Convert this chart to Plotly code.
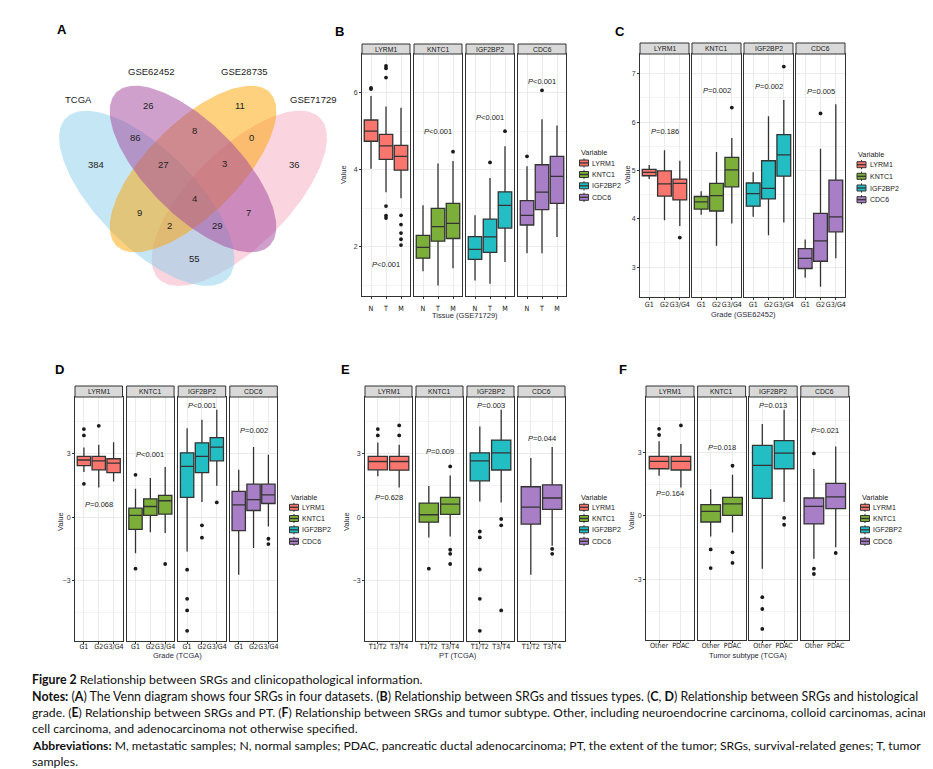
import numpy as np
import plotly.graph_objects as go

W, H = 933, 769
FONT = "Liberation Sans, Arial, Helvetica, sans-serif"
NARROW = "Liberation Sans Narrow, DejaVu Sans Condensed, Arial Narrow, Liberation Sans, sans-serif"
CAPFONT = "Lato, Noto Sans, sans-serif"
TXT = "#1A1A1A"
TICK = "#333333"

genes = ["LYRM1", "KNTC1", "IGF2BP2", "CDC6"]
gene_fill = ["#F8766D", "#7CAE3A", "#22BEC4", "#A87EC6"]

# ---------------- Panel A : Venn diagram ----------------
venn_sets = ["TCGA", "GSE62452", "GSE28735", "GSE71729"]
venn_counts = [384, 26, 11, 36, 86, 8, 0, 27, 3, 4, 9, 7, 2, 29, 55]

# ---------------- Panel B : tissue (GSE71729) ----------------
B_cats = ["N", "T", "M"]
B_low = [[4.03, 3.42, 3.26], [1.37, 1.00, 1.45], [1.13, 1.05, 1.61], [1.84, 1.84, 2.26]]
B_q1 = [[4.74, 4.27, 3.99], [1.71, 2.15, 2.22], [1.68, 1.86, 2.49], [2.57, 2.97, 3.13]]
B_med = [[5.00, 4.62, 4.35], [1.99, 2.53, 2.61], [1.94, 2.26, 3.08], [2.82, 3.42, 3.83]]
B_q3 = [[5.29, 4.92, 4.63], [2.30, 3.00, 3.13], [2.27, 2.72, 3.43], [3.20, 4.13, 4.35]]
B_up = [[5.91, 5.64, 5.61], [3.08, 4.16, 4.23], [2.82, 3.79, 4.61], [4.09, 5.31, 5.15]]
B_out = [
    [[6.12, 6.09], [6.69, 6.63, 6.39, 3.06, 2.81, 2.75], [2.82, 2.58, 2.36, 2.20, 2.05]],
    [[], [], [4.47]],
    [[], [4.19], [5.00]],
    [[4.35], [6.06], []],
]
B_p = ["&lt;0.001", "&lt;0.001", "&lt;0.001", "&lt;0.001"]

# ---------------- Panel C : grade (GSE62452) ----------------
C_cats = ["G1", "G2", "G3/G4"]
C_low = [[4.82, 3.97, 3.85], [4.08, 3.44, 3.90], [4.04, 3.66, 3.92], [2.78, 2.59, 3.18]]
C_q1 = [[4.89, 4.47, 4.39], [4.20, 4.16, 4.66], [4.26, 4.41, 4.88], [2.97, 3.12, 3.73]]
C_med = [[4.96, 4.72, 4.73], [4.35, 4.48, 5.01], [4.52, 4.63, 5.32], [3.18, 3.54, 4.04]]
C_q3 = [[5.02, 4.99, 4.82], [4.46, 4.73, 5.27], [4.74, 5.20, 5.74], [3.38, 4.11, 4.80]]
C_up = [[5.11, 5.42, 5.20], [4.57, 5.38, 5.67], [4.96, 6.12, 6.46], [3.57, 5.45, 6.37]]
C_out = [
    [[], [], [3.61]],
    [[], [], [6.30]],
    [[], [], [7.15]],
    [[], [6.18], []],
]
C_p = ["=0.186", "=0.002", "=0.002", "=0.005"]

# ---------------- Panel D : grade (TCGA) ----------------
D_cats = ["G1", "G2", "G3/G4"]
D_low = [[2.12, 1.40, 1.68], [-1.70, -0.72, -0.75], [-1.62, 0.71, 1.48], [-2.72, -1.46, -0.44]]
D_q1 = [[2.43, 2.23, 2.10], [-0.58, 0.08, 0.14], [0.93, 2.10, 2.65], [-0.64, 0.31, 0.64]]
D_med = [[2.69, 2.65, 2.54], [0.08, 0.50, 0.77], [2.39, 2.86, 3.30], [0.58, 0.82, 1.05]]
D_q3 = [[2.86, 2.86, 2.75], [0.42, 0.86, 1.02], [3.03, 3.50, 3.75], [1.21, 1.55, 1.55]]
D_up = [[3.28, 3.41, 3.53], [1.34, 1.84, 2.36], [4.19, 4.59, 5.06], [2.23, 3.30, 2.94]]
D_out = [
    [[4.15, 3.85, 1.57], [4.30], []],
    [[1.99, -2.43], [], [-2.21]],
    [[-2.48, -3.85, -4.40, -5.36], [-0.39, -0.97], [0.69]],
    [[], [], [-1.02, -1.27]],
]
D_p = ["=0.068", "&lt;0.001", "&lt;0.001", "=0.002"]

# ---------------- Panel E : PT (TCGA) ----------------
E_cats = ["T1/T2", "T3/T4"]
E_low = [[1.92, 1.40], [-0.96, -0.91], [0.74, 0.69], [-2.72, -1.35]]
E_q1 = [[2.23, 2.21], [-0.24, 0.13], [1.71, 2.22], [-0.33, 0.36]]
E_med = [[2.62, 2.62], [0.11, 0.61], [2.65, 3.03], [0.47, 0.90]]
E_q3 = [[2.86, 2.86], [0.66, 0.93], [3.03, 3.63], [1.43, 1.52]]
E_up = [[3.52, 3.41], [1.46, 1.96], [4.27, 5.06], [2.78, 3.30]]
E_out = [
    [[4.15, 3.85], [4.32, 3.85]],
    [[-2.43], [2.39, -1.54, -1.73, -2.21]],
    [[-0.68, -0.96, -2.47, -3.85, -5.36], [-0.09, -0.39, -4.40]],
    [[], [-1.50, -1.73]],
]
E_p = ["=0.628", "=0.009", "=0.003", "=0.044"]

# ---------------- Panel F : tumor subtype (TCGA) ----------------
F_cats = ["Other", "PDAC"]
F_low = [[1.89, 1.34], [-0.97, -0.78], [-2.49, 0.65], [-2.02, -1.48]]
F_q1 = [[2.22, 2.16], [-0.29, 0.02], [0.82, 2.22], [-0.38, 0.34]]
F_med = [[2.57, 2.57], [0.21, 0.56], [2.38, 2.96], [0.45, 0.89]]
F_q3 = [[2.80, 2.80], [0.53, 0.87], [3.32, 3.54], [0.84, 1.53]]
F_up = [[3.51, 3.38], [1.25, 1.94], [4.33, 5.00], [2.21, 3.27]]
F_out = [
    [[4.10, 3.81], [4.26]],
    [[-1.58, -2.46], [2.36, -1.72, -2.22]],
    [[-3.83, -4.39, -5.33], [-0.10, -0.42]],
    [[2.94, -2.49, -2.74], [-1.75]],
]
F_p = ["=0.164", "=0.018", "=0.013", "=0.021"]

# ================= layout / style parameters =================
venn_label_xy = [(88.3, 156), (140, 97.7), (232.3, 97.7), (286, 156), (127.3, 129),
                 (186, 122.3), (243.3, 129), (155, 156), (216, 155.7), (186, 190),
                 (131, 204.3), (240, 204.3), (161.7, 217.7), (209, 217.7), (186, 250.7)]
venn_set_xy = [(70.7, 91.7), (143.3, 63.3), (235.7, 63.3), (305, 91.7)]
# ellipse geometry in pixel units: centre, semi-axes, tilt (deg, screen coords)
venn_geom = {
    "TCGA": ((138.7, 190.3), 114.0, 48.6, 45, "rgba(139,205,235,0.5)"),
    "GSE62452": ((185.0, 161.0), 108.4, 46.1, 45, "rgba(163,72,158,0.52)"),
    "GSE28735": ((185.0, 161.0), 108.4, 46.1, -45, "rgba(253,163,0,0.5)"),
    "GSE71729": ((231.3, 190.3), 114.0, 48.6, -45, "rgba(245,169,191,0.5)"),
}
venn_draw_order = ["GSE71729", "TCGA", "GSE28735", "GSE62452"]

panels = [
    dict(name="B", cats=B_cats, low=B_low, q1=B_q1, med=B_med, q3=B_q3, up=B_up, out=B_out, p=B_p,
         p_y=[1.54, 5.0, 5.35, 6.29], x0=354, step=52, w=48, strip=36, top=46, bot=288,
         yrange=[0.73, 7.0], ticks=[2, 4, 6], minor=[1, 3, 5, 7], standoff=3,
         xtitle="Tissue (GSE71729)", xt=(457, 307), yt=(336, 167),
         lx=570.5, lty=144, lys=[155, 166.5, 177.8, 189.3], letter=(331, 23)),
    dict(name="C", cats=C_cats, low=C_low, q1=C_q1, med=C_med, q3=C_q3, up=C_up, out=C_out, p=C_p,
         p_y=[5.8, 6.65, 6.74, 6.63], x0=632, step=52, w=49, strip=35, top=46, bot=289,
         yrange=[2.38, 7.41], ticks=[3, 4, 5, 6, 7], minor=[2.5, 3.5, 4.5, 5.5, 6.5], standoff=-2,
         xtitle="Grade (GSE62452)", xt=(735, 306), yt=(620, 167),
         lx=848, lty=147, lys=[156.7, 168.3, 180, 191.7], letter=(612, 23)),
    dict(name="D", cats=D_cats, low=D_low, q1=D_q1, med=D_med, q3=D_q3, up=D_up, out=D_out, p=D_p,
         p_y=[0.61, 2.94, 5.26, 4.07], x0=67, step=51.6, w=47.5, strip=378, top=389, bot=633,
         yrange=[-5.84, 5.66], ticks=[-3, 0, 3], minor=[-4.5, -1.5, 1.5, 4.5], standoff=-4,
         xtitle="Grade (TCGA)", xt=(169, 647), yt=(52, 514),
         lx=280.5, lty=490, lys=[499.3, 510.5, 521.8, 533.3], letter=(51, 361)),
    dict(name="E", cats=E_cats, low=E_low, q1=E_q1, med=E_med, q3=E_q3, up=E_up, out=E_out, p=E_p,
         p_y=[0.93, 3.09, 5.26, 3.72], x0=357, step=51, w=47, strip=378, top=389, bot=633,
         yrange=[-5.84, 5.66], ticks=[-3, 0, 3], minor=[-4.5, -1.5, 1.5, 4.5], standoff=-4,
         xtitle="PT (TCGA)", xt=(450, 647), yt=(338, 514),
         lx=570.5, lty=490, lys=[499.3, 510.5, 521.8, 533.3], letter=(337, 361)),
    dict(name="F", cats=F_cats, low=F_low, q1=F_q1, med=F_med, q3=F_q3, up=F_up, out=F_out, p=F_p,
         p_y=[1.03, 3.24, 5.2, 4.03], x0=638, step=51.6, w=48, strip=378, top=389, bot=632,
         yrange=[-5.85, 5.6], ticks=[-3, 0, 3], minor=[-4.5, -1.5, 1.5, 4.5], standoff=-4,
         xtitle="Tumor subtype (TCGA)", xt=(740, 647), yt=(623, 513),
         lx=851.5, lty=490, lys=[499.3, 510.5, 521.8, 533.3], letter=(615, 361)),
]

caption_lines = [
    "<b>Figure 2</b> Relationship between SRGs and clinicopathological information.",
    "<b>Notes:</b> (<b>A</b>) The Venn diagram shows four SRGs in four datasets. (<b>B</b>) Relationship between SRGs and tissues types. (<b>C</b>, <b>D</b>) Relationship between SRGs and histological",
    "grade. (<b>E</b>) Relationship between SRGs and PT. (<b>F</b>) Relationship between SRGs and tumor subtype. Other, including neuroendocrine carcinoma, colloid carcinomas, acinar",
    "cell carcinoma, and adenocarcinoma not otherwise specified.",
    "<b>Abbreviations:</b> M, metastatic samples; N, normal samples; PDAC, pancreatic ductal adenocarcinoma; PT, the extent of the tumor; SRGs, survival-related genes; T, tumor",
    "samples.",
]
caption_y = [671.5, 688, 704, 720, 737.5, 753.5]
caption_size = [12.3, 12.45, 12.25, 12.3, 12.15, 12.3]


def px(x):
    return x / W


def py(y):
    return 1 - y / H


def text_at(x, y, text, size, color=TXT, xanchor="center", family=None, angle=0):
    f = dict(size=size, color=color)
    if family:
        f["family"] = family
    return dict(x=px(x), y=py(y), xref="paper", yref="paper", text=text, showarrow=False,
                xanchor=xanchor, yanchor="middle", textangle=angle, font=f)


fig = go.Figure()
layout = dict(width=W, height=H, margin=dict(l=0, r=0, t=0, b=0),
              paper_bgcolor="white", plot_bgcolor="white", showlegend=False,
              font=dict(family=FONT, color=TXT))
shapes, annos = [], []

# ---------- Venn ----------
layout["xaxis"] = dict(domain=[0, px(340)], range=[0, 340], visible=False, fixedrange=True)
layout["yaxis"] = dict(domain=[py(300), 1], range=[300, 0], visible=False, fixedrange=True)
t = np.linspace(0, 2 * np.pi, 200)
for s in venn_draw_order:
    (cx, cy), a, b, ang, col = venn_geom[s]
    th = np.deg2rad(ang)
    ex = cx + a * np.cos(t) * np.cos(th) - b * np.sin(t) * np.sin(th)
    ey = cy + a * np.cos(t) * np.sin(th) + b * np.sin(t) * np.cos(th)
    fig.add_trace(go.Scatter(x=ex, y=ey, mode="lines", fill="toself", fillcolor=col,
                             line=dict(width=0), hoverinfo="skip", xaxis="x", yaxis="y"))
for n, (lx_, ly_) in zip(venn_counts, venn_label_xy):
    annos.append(dict(x=lx_, y=ly_, xref="x", yref="y", text=str(n), showarrow=False,
                      xanchor="center", yanchor="middle",
                      font=dict(size=9.5, color="#222222")))
for s, (lx_, ly_) in zip(venn_sets, venn_set_xy):
    annos.append(dict(x=lx_, y=ly_, xref="x", yref="y", text=s, showarrow=False,
                      xanchor="center", yanchor="middle",
                      font=dict(size=9.5, color="#222222")))
annos.append(text_at(54, 22, "<b>A</b>", 13, "black"))

# ---------- Box panels ----------
ax = 2
for P in panels:
    cats = P["cats"]
    n = len(cats)
    for g in range(4):
        x0 = P["x0"] + g * P["step"]
        x1 = x0 + P["w"]
        xs, ys = f"x{ax}", f"y{ax}"
        layout[f"xaxis{ax}"] = dict(
            domain=[px(x0), px(x1)], anchor=ys, type="category", categoryorder="array",
            categoryarray=cats, range=[-0.6, n - 0.4], showgrid=True, gridcolor="#EBEBEB",
            gridwidth=1, showline=True, mirror=True, linecolor="#333333", linewidth=1,
            ticks="outside", ticklen=2, tickcolor=TICK, tickangle=0,
            ticklabelstandoff=P["standoff"],
            tickfont=dict(size=7.1, color=TXT, family=NARROW), zeroline=False, fixedrange=True)
        layout[f"yaxis{ax}"] = dict(
            domain=[py(P["bot"]), py(P["top"])], anchor=xs, range=P["yrange"],
            tickmode="array", tickvals=P["ticks"], showticklabels=(g == 0),
            ticks="outside" if g == 0 else "", ticklen=2, tickcolor=TICK,
            tickfont=dict(size=7, color="#333344"), showgrid=True, gridcolor="#EBEBEB",
            gridwidth=1, minor=dict(tickmode="array", tickvals=P["minor"], showgrid=True,
                                    gridcolor="#F3F3F3", gridwidth=0.6, ticks=""),
            showline=True, mirror=True, linecolor="#333333", linewidth=1,
            zeroline=False, fixedrange=True)
        fig.add_trace(go.Box(
            x=cats, q1=P["q1"][g], median=P["med"][g], q3=P["q3"][g],
            lowerfence=P["low"][g], upperfence=P["up"][g], xaxis=xs, yaxis=ys,
            fillcolor=gene_fill[g], line=dict(color="#333333", width=1.3),
            whiskerwidth=0, width=0.9, boxpoints=False, hoverinfo="skip"))
        ox, oy = [], []
        for c, vals in zip(cats, P["out"][g]):
            ox += [c] * len(vals)
            oy += vals
        if ox:
            fig.add_trace(go.Scatter(x=ox, y=oy, mode="markers", xaxis=xs, yaxis=ys,
                                     marker=dict(size=3.8, color="#1A1A1A"), hoverinfo="skip"))
        # p-value label
        annos.append(dict(x=(n - 1) / 2, y=P["p_y"][g], xref=xs, yref=ys,
                          text="<i>P</i>" + P["p"][g], showarrow=False,
                          xanchor="center", yanchor="middle",
                          font=dict(size=7.5, color=TXT)))
        # strip
        shapes.append(dict(type="rect", xref="paper", yref="paper", x0=px(x0), x1=px(x1),
                           y0=py(P["top"]), y1=py(P["strip"]), fillcolor="#D9D9D9",
                           line=dict(color="#333333", width=1), layer="above"))
        annos.append(text_at((x0 + x1) / 2, (P["strip"] + P["top"]) / 2 + 0.3, genes[g], 6.8))
        ax += 1
    # axis titles
    annos.append(text_at(P["xt"][0], P["xt"][1], P["xtitle"], 7.5, "#2A2A3A"))
    annos.append(text_at(P["yt"][0], P["yt"][1], "Value", 7.5, "#2A2A3A", angle=-90))
    # panel letter
    annos.append(text_at(P["letter"][0], P["letter"][1], "<b>" + P["name"] + "</b>", 13, "black"))
    # legend
    lx = P["lx"]
    annos.append(text_at(lx, P["lty"], "Variable", 7.3, xanchor="left"))
    for g, yy in enumerate(P["lys"]):
        shapes.append(dict(type="line", xref="paper", yref="paper", x0=px(lx + 5.5), x1=px(lx + 5.5),
                           y0=py(yy - 4.6), y1=py(yy + 4.6), line=dict(color="#333333", width=1)))
        shapes.append(dict(type="rect", xref="paper", yref="paper", x0=px(lx + 1), x1=px(lx + 10),
                           y0=py(yy + 3), y1=py(yy - 3), fillcolor=gene_fill[g],
                           line=dict(color="#333333", width=1)))
        shapes.append(dict(type="line", xref="paper", yref="paper", x0=px(lx + 1), x1=px(lx + 10),
                           y0=py(yy), y1=py(yy), line=dict(color="#333333", width=1.3)))
        annos.append(text_at(lx + 11.5, yy, genes[g], 7, xanchor="left"))

# ---------- caption ----------
for line, yy, sz in zip(caption_lines, caption_y, caption_size):
    annos.append(text_at(22, yy, line, sz, "#111111", xanchor="left", family=CAPFONT))

layout["shapes"] = shapes
layout["annotations"] = annos
fig.update_layout(**layout)
fig.write_html("out.html")
